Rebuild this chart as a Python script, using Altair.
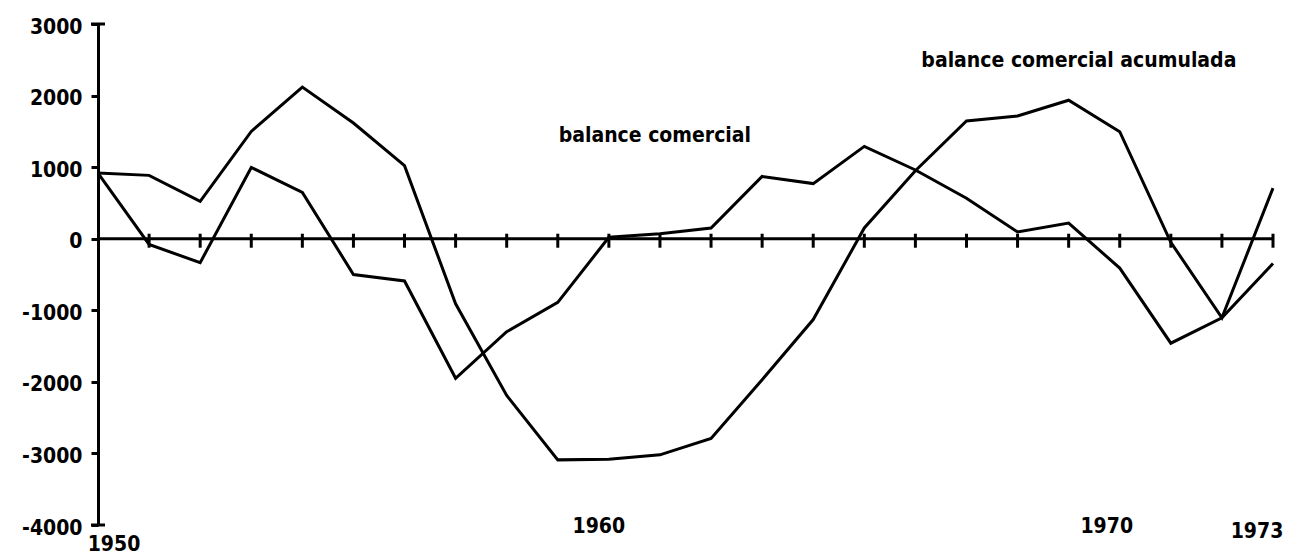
import altair as alt
import pandas as pd

# ---- data ----
years = list(range(1950, 1974))
acumulada = [917, 885, 521, 1499, 2119, 1616, 1020, -910, -2190, -3090, -3080, -3020,
             -2790, -1970, -1130, 150, 950, 1645, 1715, 1935, 1495, -50, -1105, 707]
comercial = [917, -80, -335, 996, 647, -500, -590, -1950, -1300, -890, 20, 70,
             150, 870, 770, 1290, 960, 565, 95, 218, -410, -1460, -1105, -345]
y_ticks = [-4000, -3000, -2000, -1000, 0, 1000, 2000, 3000]
x_labels = [1950, 1960, 1970, 1973]
ann_text = ["balance comercial", "balance comercial acumulada"]
ann_year = [1960.9, 1969.2]
ann_value = [1430, 2490]

FONT = "DejaVu Sans Condensed, DejaVu Sans"

df = pd.DataFrame({
    "year": years * 2,
    "value": acumulada + comercial,
    "series": ["balance comercial acumulada"] * len(years) + ["balance comercial"] * len(years),
})

xscale = alt.Scale(domain=[years[0], years[-1]], nice=False, zero=False)
yscale = alt.Scale(domain=[y_ticks[0], y_ticks[-1]], nice=False, zero=False)

yaxis = alt.Axis(values=y_ticks, title=None, grid=False, domain=True, domainColor="black",
                 domainWidth=3, ticks=True, tickColor="black", tickWidth=3, tickSize=7,
                 labelPadding=9, labelFont=FONT, labelFontSize=21, labelFontWeight="bold",
                 labelColor="black", labelOffset=3, labelBaseline="middle",
                 labelExpr="datum.value < 0 ? '-' + abs(datum.value) : '' + datum.value")


def X(field):
    return alt.X(field, scale=xscale, axis=None)


def Y(field):
    return alt.Y(field, scale=yscale, axis=yaxis)


lines = alt.Chart(df).mark_line(color="black", strokeWidth=3).encode(
    x=X("year:Q"), y=Y("value:Q"), detail="series:N")

zero = alt.Chart(pd.DataFrame({"a": [years[0]], "b": [years[-1]], "v": [0]})).mark_rule(
    color="black", strokeWidth=3).encode(x=X("a:Q"), x2="b:Q", y=Y("v:Q"))

xticks = alt.Chart(pd.DataFrame({"year": years[1:], "v": [0] * (len(years) - 1)})).mark_tick(
    color="black", opacity=1, orient="vertical", size=14, thickness=3, yOffset=2).encode(
    x=X("year:Q"), y=Y("v:Q"))

yends = alt.Chart(pd.DataFrame({"year": [years[0]] * 2, "v": [y_ticks[0], y_ticks[-1]]})).mark_tick(
    color="black", opacity=1, orient="horizontal", size=14, thickness=3).encode(
    x=X("year:Q"), y=Y("v:Q"))

ann = alt.Chart(pd.DataFrame({"t": ann_text, "year": ann_year, "v": ann_value})).mark_text(
    font=FONT, fontSize=21, fontWeight="bold", color="black", align="center",
    baseline="middle").encode(x=X("year:Q"), y=Y("v:Q"), text="t:N")

label_offsets = {1950: (16, 20), 1960: (-10, 2), 1970: (-13, 2), 1973: (-16, 7)}
xlab_layers = []
for yr in x_labels:
    dx, dy = label_offsets[yr]
    xlab_layers.append(
        alt.Chart(pd.DataFrame({"year": [yr], "v": [y_ticks[0]], "t": [str(yr)]})).mark_text(
            font=FONT, fontSize=21, fontWeight="bold", color="black", align="center",
            baseline="middle", dx=dx, dy=dy).encode(x=X("year:Q"), y=Y("v:Q"), text="t:N"))

chart = alt.layer(lines, zero, xticks, yends, ann, *xlab_layers).properties(
    width=1175, height=501,
    autosize=alt.AutoSizeParams(type="none"),
    padding={"left": 90, "top": 16, "right": 10, "bottom": 30},
).configure(background="white").configure_view(strokeWidth=0)

chart.save("out.html", embed_options={"renderer": "svg", "actions": False})
